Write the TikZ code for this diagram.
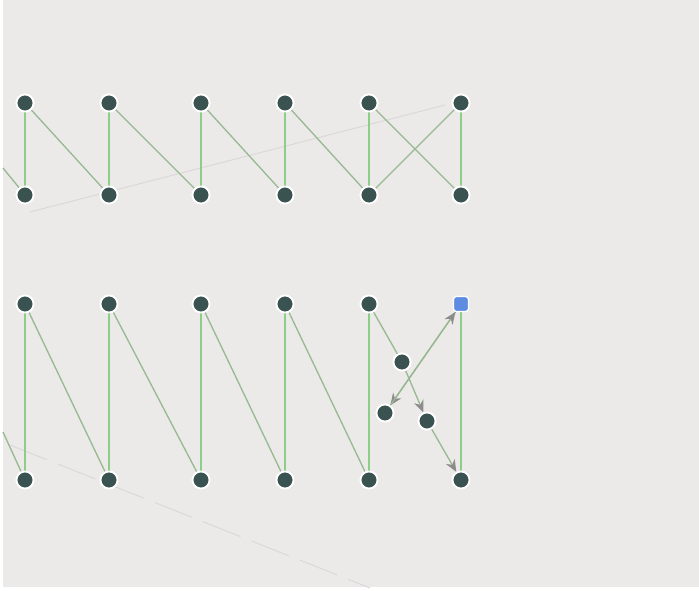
\documentclass[tikz,border=0pt]{standalone}
\usetikzlibrary{arrows.meta}
\definecolor{bg}{RGB}{236,233,233}
\definecolor{nodefill}{RGB}{58,82,80}
\definecolor{vgreen}{RGB}{140,205,135}
\definecolor{dgreen}{RGB}{150,185,145}
\definecolor{faint}{RGB}{218,216,216}
\definecolor{blueN}{RGB}{95,140,225}
\definecolor{tipgray}{RGB}{140,140,140}
\tikzset{
  dot/.style={circle,fill=nodefill,draw=white,line width=1.8pt,minimum size=17pt,inner sep=0pt},
  bluedot/.style={rectangle,rounded corners=3pt,fill=blueN,draw=white,line width=1.2pt,minimum size=15pt,inner sep=0pt},
  vedge/.style={draw=vgreen,line width=1.6pt},
  dedge/.style={draw=dgreen,line width=1.3pt},
  tipS/.style={-{Stealth[length=12pt,width=10pt,color=tipgray]}},
  aedge/.style={draw=dgreen,line width=1.3pt,tipS},
  faintline/.style={draw=faint,line width=1pt},
}
\begin{document}
\begin{tikzpicture}[x=1pt,y=-1pt]
\fill[white] (0,0) rectangle (699,590);
\fill[bg] (3,0) rectangle (699,587);
\useasboundingbox (0,0) rectangle (699,590);
% faint background lines
\draw[faintline] (30,212) -- (445,105);
\draw[faintline,dash pattern=on 40pt off 12pt] (10,445) -- (370,588);
% free ends
\coordinate (l1) at (3,168);
\coordinate (l2) at (3,432);
\foreach \i/\x in {1/25,2/109,3/201,4/285,5/369,6/461}{
  \node[dot] (a\i) at (\x,103) {};
  \node[dot] (b\i) at (\x,195) {};
  \node[dot] (d\i) at (\x,480) {};
}
\foreach \i/\x in {1/25,2/109,3/201,4/285,5/369}{
  \node[dot] (c\i) at (\x,304) {};
}
\node[bluedot] (c6) at (461,304) {};
\node[dot] (m1) at (402,362) {};
\node[dot] (m2) at (385,413) {};
\node[dot] (m3) at (427,421) {};
% edges top group
\foreach \i in {1,...,6}{\path[vedge] (a\i) -- (b\i);}
\path[dedge] (l1) -- (b1);
\path[dedge] (a1) -- (b2);
\path[dedge] (a2) -- (b3);
\path[dedge] (a3) -- (b4);
\path[dedge] (a4) -- (b5);
\path[dedge] (a5) -- (b6);
\path[dedge] (a6) -- (b5);
% edges bottom group
\foreach \i in {1,...,5}{\path[vedge] (c\i) -- (d\i);}
\path[vedge] (c6) -- (d6);
\path[dedge] (l2) -- (d1);
\path[dedge] (c1) -- (d2);
\path[dedge] (c2) -- (d3);
\path[dedge] (c3) -- (d4);
\path[dedge] (c4) -- (d5);
\path[dedge] (c5) -- (m1);
\path[aedge] (m1) -- (m3);
\path[aedge] (m3) -- (d6);
\path[aedge] (c6) -- (m2);
\path[aedge] (m2) -- (c6);
\path[draw=none,tipS] (d6) -- (c6);
% redraw nodes on top
\foreach \i in {1,...,6}{
  \node[dot] at (a\i) {};
  \node[dot] at (b\i) {};
  \node[dot] at (d\i) {};
}
\foreach \i in {1,...,5}{\node[dot] at (c\i) {};}
\node[bluedot] at (c6) {};
\node[dot] at (m1) {};
\node[dot] at (m2) {};
\node[dot] at (m3) {};
\end{tikzpicture}
\end{document}
